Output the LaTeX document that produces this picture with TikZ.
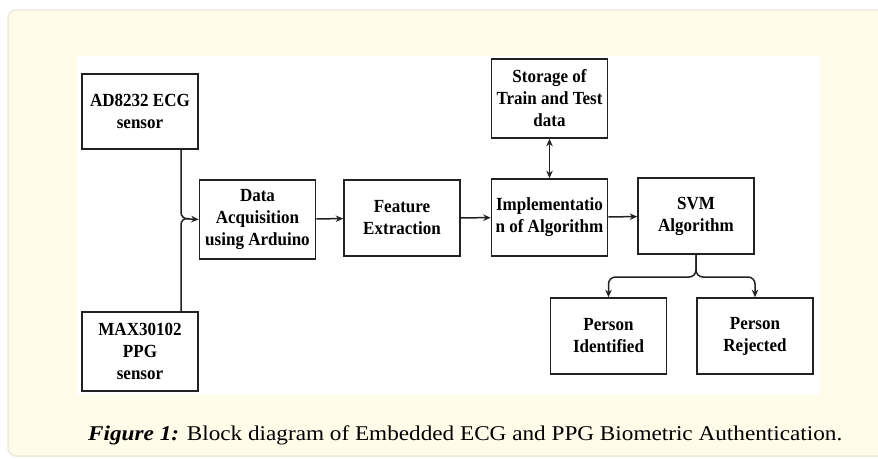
\documentclass[tikz,border=0pt]{standalone}
\usepackage{fontspec}
\setmainfont{Liberation Serif}[FakeStretch=0.92]
\newfontfamily\capfont{Liberation Serif}[FakeStretch=1.105]
\usepackage{tikz}
\usetikzlibrary{calc,arrows.meta}

\definecolor{cream}{HTML}{FFFCEA}
\definecolor{panelline}{HTML}{EDEADC}
\definecolor{boxline}{HTML}{222222}

\tikzset{
  block/.style={draw=boxline, line width=1.6pt, fill=white, minimum width=116pt,
    minimum height=77pt, align=center, inner sep=1pt,
    font=\fontsize{18.5}{22}\selectfont\bfseries},
  link/.style={line width=1.5pt, draw=boxline, -{Stealth[length=7.5pt,width=6.5pt]}}
}

\begin{document}
\begin{tikzpicture}[x=1pt,y=-1pt]
\useasboundingbox (0,0) rectangle (878,458);
\fill[white] (0,0) rectangle (878,458);
\draw[fill=cream, draw=panelline, line width=1.5pt, rounded corners=8pt] (8,10) rectangle (900,456);
\fill[white] (77,56) rectangle (820,395);

% sensors and blocks
\node[block, minimum height=75pt] (ecg) at (140,111.5) {AD8232 ECG\\sensor};
\node[block, minimum height=79pt] (ppg) at (140,351.5) {MAX30102\\PPG\\sensor};
\node[block, minimum height=79pt] (daq) at (257.5,219.5) {Data\\Acquisition\\using Arduino};
\node[block, minimum height=76pt] (feat) at (402,218) {Feature\\Extraction};
\node[block] (impl) at (549.5,217.5) {Implementatio\\n of Algorithm};
\node[block, minimum height=79pt] (store) at (549.5,98.5) {Storage of\\Train and Test\\data};
\node[block, minimum height=76pt] (svm) at (696,216) {SVM\\Algorithm};
\node[block, minimum height=76pt] (pid) at (608.5,336) {Person\\Identified};
\node[block, minimum height=76pt] (prej) at (755,336) {Person\\Rejected};

% joining the two sensors
\coordinate (j) at (181,218.5);
\draw[link, rounded corners=6pt] (j |- ecg.south) -- (j) -- (daq.west);
\draw[link, -, rounded corners=6pt] (j |- ppg.north) -- (j) -- ($(j)+(8,0)$);

% main chain
\draw[link] (daq) -- (feat);
\draw[link] (feat) -- (impl);
\draw[link] (impl) -- (svm);
\draw[link, {Stealth[length=7.5pt,width=6.5pt]}-{Stealth[length=7.5pt,width=6.5pt]}] (store) -- (impl);

% decision split
\coordinate (s) at (696,277);
\draw[link, rounded corners=7pt] (svm.south) -- (s) -| (pid.north);
\draw[link, rounded corners=7pt] (svm.south) -- (s) -| (prej.north);

% caption
\node[anchor=base west, inner sep=0pt, font=\capfont\fontsize{21}{24}\selectfont] (cap) at (88,440)
  {\textbf{\textit{Figure 1:}} Block diagram of Embedded ECG and PPG Biometric Authentication.};
\end{tikzpicture}
\end{document}
